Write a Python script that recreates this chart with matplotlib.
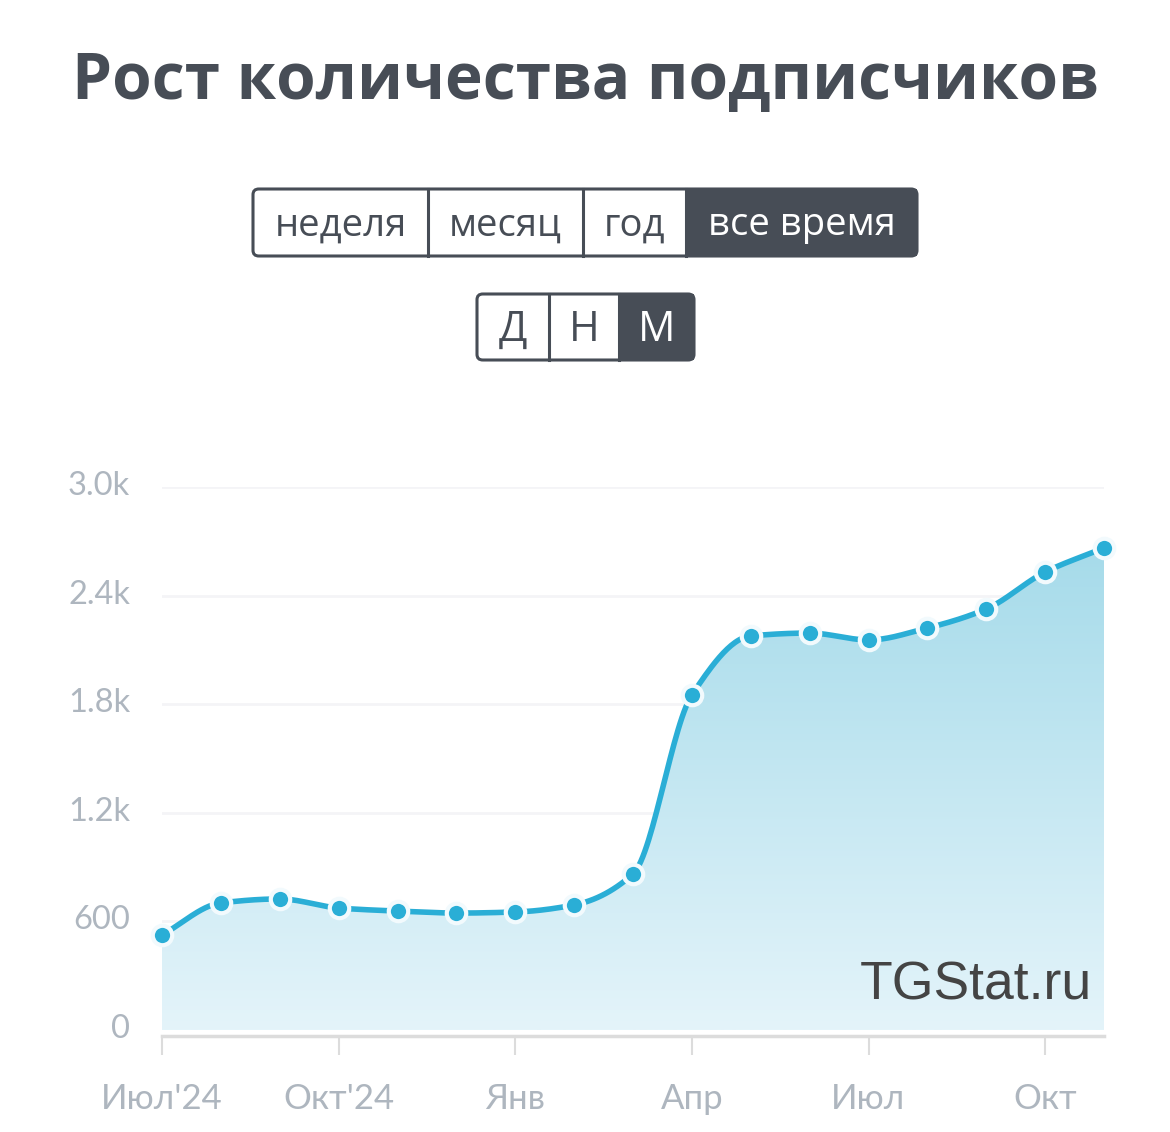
import numpy as np
import matplotlib.pyplot as plt
import matplotlib.transforms as mtransforms
from matplotlib.patches import FancyBboxPatch, Rectangle
from matplotlib.colors import LinearSegmentedColormap

# monthly subscriber counts, Jul 2024 .. Nov 2025
months = list(range(17))
subscribers = [525, 702, 724, 674, 657, 646, 652, 691, 862, 1851,
               2177, 2193, 2155, 2221, 2326, 2530, 2663]
tick_pos = [0, 3, 6, 9, 12, 15]
tick_labels = ["Июл'24", "Окт'24", "Янв", "Апр", "Июл", "Окт"]
y_ticks = [0, 600, 1200, 1800, 2400, 3000]
y_labels = ["0", "600", "1.2k", "1.8k", "2.4k", "3.0k"]

period_buttons = ["неделя", "месяц", "год", "все время"]
step_buttons = ["Д", "Н", "М"]

W, H = 1170, 1132
fig = plt.figure(figsize=(W / 100, H / 100), dpi=100)
fig.patch.set_facecolor("white")

dark = "#474d56"
line_c = "#2aaed6"
tick_c = "#aeb6bf"


def fx(px):
    return px / W


def fy(py):
    return 1 - py / H


# title
fig.text(0.5, fy(82), "Рост количества подписчиков", ha="center", va="center",
         fontsize=46, fontweight="bold", color=dark, family="Open Sans")


# button groups
def button_row(labels, edges, top, bottom, fsize):
    for i, lab in enumerate(labels):
        x0, x1 = edges[i], edges[i + 1]
        active = i == len(labels) - 1
        if active:
            fig.patches.append(Rectangle((fx(x0), fy(bottom)), fx(x1 - x0), fy(top) - fy(bottom),
                                         transform=fig.transFigure, facecolor=dark,
                                         edgecolor="none", zorder=1))
        fig.text(fx((x0 + x1) / 2), fy((top + bottom) / 2 + 3), lab, ha="center", va="center",
                 fontsize=fsize, color="white" if active else dark, family="Open Sans", zorder=3)
        if 0 < i:
            fig.lines.append(plt.Line2D([fx(x0), fx(x0)], [fy(top), fy(bottom)],
                                        transform=fig.transFigure, color=dark, lw=2.2, zorder=2))
    box = FancyBboxPatch((fx(edges[0]), fy(bottom)), fx(edges[-1] - edges[0]), fy(top) - fy(bottom),
                         boxstyle="round,pad=0,rounding_size=0.005", transform=fig.transFigure,
                         facecolor="none", edgecolor=dark, lw=2.2, zorder=2)
    fig.patches.append(box)


button_row(period_buttons, [253, 428, 583, 686, 917], 189, 256, 27.5)
button_row(step_buttons, [477, 549, 619, 694], 294, 360, 30)

# chart area
ax = fig.add_axes([fx(162), fy(1030), fx(1104 - 162), fy(487) - fy(1030)])
ax.set_xlim(0, 16)
ax.set_ylim(0, 3000)


# monotone cubic curve through the points (drawing only)
def pchip(x, y, n=30):
    x = np.asarray(x, float)
    y = np.asarray(y, float)
    h = np.diff(x)
    d = np.diff(y) / h
    m = np.zeros_like(y)
    m[0], m[-1] = d[0], d[-1]
    for k in range(1, len(y) - 1):
        if d[k - 1] * d[k] > 0:
            m[k] = 2 / (1 / d[k - 1] + 1 / d[k])
    xs, ys = [], []
    for k in range(len(h)):
        t = np.linspace(0, 1, n, endpoint=False)
        h00 = 2 * t**3 - 3 * t**2 + 1
        h10 = t**3 - 2 * t**2 + t
        h01 = -2 * t**3 + 3 * t**2
        h11 = t**3 - t**2
        xs.append(x[k] + t * h[k])
        ys.append(h00 * y[k] + h10 * h[k] * m[k] + h01 * y[k + 1] + h11 * h[k] * m[k + 1])
    xs.append([x[-1]])
    ys.append([y[-1]])
    return np.concatenate(xs), np.concatenate(ys)


sx, sy = pchip(months, subscribers)

# gradient fill
poly = ax.fill_between(sx, 0, sy, color="none", lw=0)
cmap = LinearSegmentedColormap.from_list("g", ["#e4f4fa", "#a6dbea"])
grad = np.linspace(0, 1, 256).reshape(-1, 1)
img = ax.imshow(grad, cmap=cmap, aspect="auto", origin="lower",
                extent=[0, 16, 0, max(subscribers)], zorder=1)
img.set_clip_path(poly.get_paths()[0], transform=ax.transData)

ax.plot(sx, sy, color=line_c, lw=4, zorder=3, clip_on=False, solid_capstyle="round")
ax.plot(months, subscribers, "o", ms=14, mfc=line_c, mec="#f2fafd", mew=3, zorder=4, clip_on=False)

# grid & axes
for v in y_ticks[1:]:
    ax.axhline(v, color="#f4f4f7", lw=2, zorder=0)
ax.set_yticks(y_ticks)
ax.set_yticklabels(y_labels)
ax.set_xticks(tick_pos)
ax.set_xticklabels(tick_labels)
for s in ["top", "right", "left"]:
    ax.spines[s].set_visible(False)
ax.spines["bottom"].set_color("#dcdcdc")
ax.spines["bottom"].set_linewidth(2.5)
ax.spines["bottom"].set_position(("outward", 4))
ax.tick_params(axis="y", length=0, pad=23, labelsize=23.5, labelcolor=tick_c)
ax.tick_params(axis="x", length=14, width=1.5, color="#dcdcdc", pad=20, labelsize=25,
               labelcolor=tick_c)
shift = mtransforms.ScaledTranslation(0, 4 / 100, fig.dpi_scale_trans)
for lab in ax.get_yticklabels():
    lab.set_family("Lato")
    lab.set_transform(lab.get_transform() + shift)
for lab in ax.get_xticklabels():
    lab.set_family("Lato")

fig.text(fx(1092), fy(986), "TGStat.ru", ha="right", va="center", fontsize=38.5,
         color="#444444", family="Liberation Sans", zorder=5)

fig.savefig("out.png", dpi=100, facecolor="white")
